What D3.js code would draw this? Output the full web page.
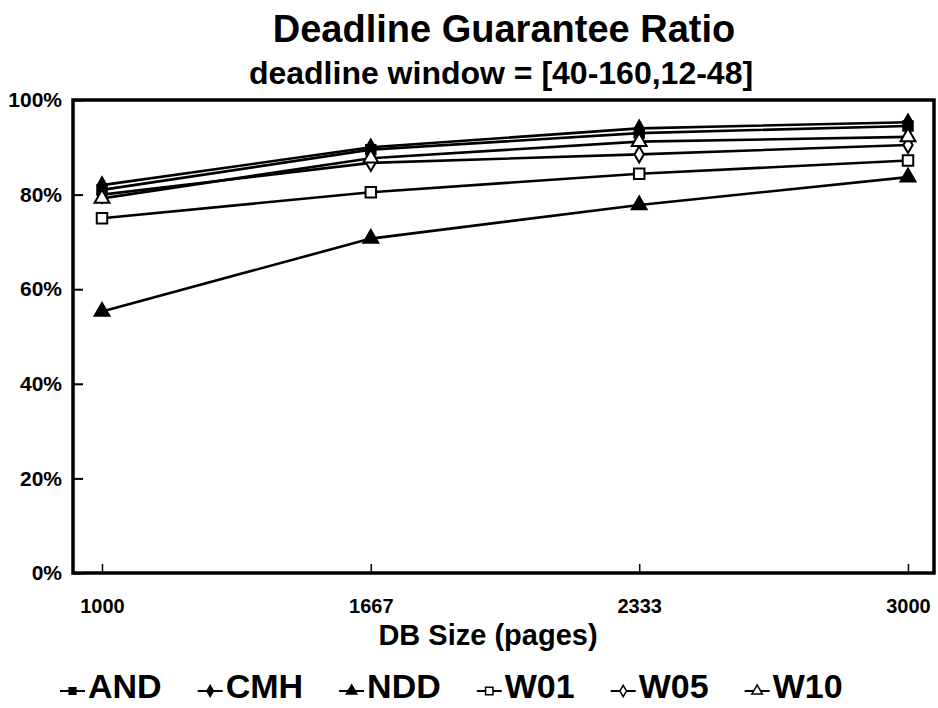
<!DOCTYPE html>
<html>
<head>
<meta charset="utf-8">
<script src="https://d3js.org/d3.v7.min.js"></script>
<style>
  body { margin: 0; background: #fff; }
  text { font-family: "Liberation Sans", Arial, sans-serif; font-weight: bold; fill: #000; }
</style>
</head>
<body>
<div id="chart"></div>
<script>
// data
var dbSizes = [1000, 1667, 2333, 3000];
var xTickLabels = ['1000', '1667', '2333', '3000'];
var yTicks = [0, 0.2, 0.4, 0.6, 0.8, 1.0];
var seriesNames = ['AND', 'CMH', 'NDD', 'W01', 'W05', 'W10'];
var andVals = [0.81, 0.895, 0.93, 0.945];
var cmhVals = [0.82, 0.90, 0.94, 0.953];
var nddVals = [0.553, 0.707, 0.778, 0.837];
var w01Vals = [0.75, 0.805, 0.844, 0.872];
var w05Vals = [0.80, 0.867, 0.885, 0.905];
var w10Vals = [0.792, 0.877, 0.912, 0.922];

var w = 938, h = 708;
var pLeft = 73, pRight = 934, pTop = 100, pBottom = 573;

var svg = d3.select('#chart').append('svg').attr('width', w).attr('height', h);

var xScale = d3.scaleLinear().domain([1000, 3000]).range([102, 908]);
var yScale = d3.scaleLinear().domain([0, 1]).range([pBottom, pTop]);

var shapes = [d3.symbolSquare, d3.symbolDiamond, d3.symbolTriangle, d3.symbolSquare, d3.symbolDiamond, d3.symbolTriangle];
var sizes = [90, 70, 95, 110, 75, 95];
var fills = ['#000', '#000', '#000', '#fff', '#fff', '#fff'];
var allVals = [andVals, cmhVals, nddVals, w01Vals, w05Vals, w10Vals];
var series = seriesNames.map(function(n, i){
  return {name: n, vals: allVals[i], shape: shapes[i], size: sizes[i], fill: fills[i]};
});

// titles
svg.append('text').attr('x', 504).attr('y', 42).attr('text-anchor', 'middle')
  .attr('font-size', '38px').text('Deadline Guarantee Ratio');
svg.append('text').attr('x', 501).attr('y', 84).attr('text-anchor', 'middle')
  .attr('font-size', '32px').text('deadline window = [40-160,12-48]');

// axes (ticks inside the frame)
var yAxis = d3.axisLeft(yScale).tickValues(yTicks).tickSize(-10).tickFormat(d3.format('.0%'));
var gy = svg.append('g').attr('transform', 'translate(' + pLeft + ',0)').call(yAxis);
gy.select('.domain').remove();
gy.selectAll('line').attr('stroke', '#000').attr('stroke-width', 2);
gy.selectAll('text').attr('x', -11).attr('font-size', '21px')
  .attr('font-family', '"Liberation Sans", Arial, sans-serif').attr('font-weight', 'bold');

var xAxis = d3.axisBottom(xScale).tickValues(dbSizes).tickSize(-9)
  .tickFormat(function(d, i){ return xTickLabels[i]; });
var gx = svg.append('g').attr('transform', 'translate(0,' + pBottom + ')').call(xAxis);
gx.select('.domain').remove();
gx.selectAll('line').attr('stroke', '#000').attr('stroke-width', 1.5);
gx.selectAll('text').attr('y', 33).attr('dy', '0.35em').attr('font-size', '20px')
  .attr('font-family', '"Liberation Sans", Arial, sans-serif').attr('font-weight', 'bold');

// frame
svg.append('rect').attr('x', pLeft).attr('y', pTop).attr('width', pRight - pLeft).attr('height', pBottom - pTop)
  .attr('fill', 'none').attr('stroke', '#000').attr('stroke-width', 3.5);

svg.append('text').attr('x', 488).attr('y', 645).attr('text-anchor', 'middle')
  .attr('font-size', '29px').text('DB Size (pages)');

// lines
var line = d3.line().x(function(d, i){ return xScale(dbSizes[i]); }).y(function(d){ return yScale(d); });
svg.append('g').selectAll('path').data(series).enter().append('path')
  .attr('d', function(s){ return line(s.vals); })
  .attr('fill', 'none').attr('stroke', '#000').attr('stroke-width', 2.6);

// markers
series.forEach(function(s){
  svg.append('g').selectAll('path').data(s.vals).enter().append('path')
    .attr('d', d3.symbol().type(s.shape).size(s.size))
    .attr('transform', function(d, i){ return 'translate(' + xScale(dbSizes[i]) + ',' + yScale(d) + ')'; })
    .attr('fill', s.fill).attr('stroke', '#000').attr('stroke-width', 2);
});

// legend
var lg = svg.append('g');
var lx = 60, ly = 691;
series.forEach(function(s){
  var item = lg.append('g').attr('transform', 'translate(' + lx + ',' + ly + ')');
  item.append('line').attr('x1', 0).attr('x2', 25).attr('stroke', '#000').attr('stroke-width', 2);
  item.append('path').attr('d', d3.symbol().type(s.shape).size(s.size * 0.5))
    .attr('transform', 'translate(12.5,0)').attr('fill', s.fill).attr('stroke', '#000').attr('stroke-width', 1.5);
  var t = item.append('text').attr('x', 28).attr('y', 7).attr('font-size', '34px').text(s.name);
  lx += 28 + t.node().getComputedTextLength() + 36;
});
</script>
</body>
</html>
